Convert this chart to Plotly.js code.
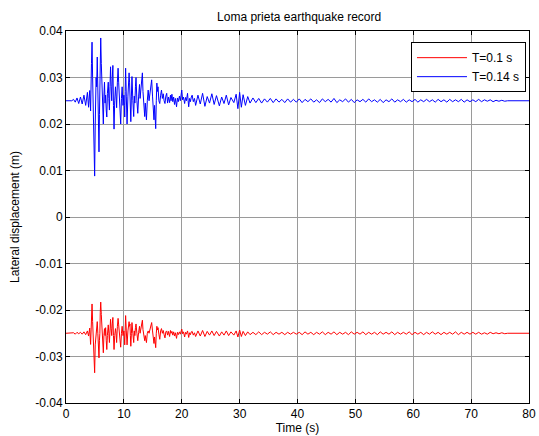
<!DOCTYPE html>
<html>
<head>
<meta charset="utf-8">
<script src="https://cdn.plot.ly/plotly-3.0.1.min.js"></script>
<style>html,body{margin:0;padding:0;background:#fff;}#chart{width:539px;height:436px;}</style>
</head>
<body>
<div id="chart"></div>
<script>
// Time samples (s), shared by both records
const time = [
  0, 1.0, 1.3, 1.6, 1.9, 2.2, 2.5, 2.8, 3.1, 3.4, 3.7, 3.9,
  4.1, 4.25, 4.4, 4.5, 4.6, 4.7, 4.8, 4.95, 5.05, 5.2,
  5.3, 5.4, 5.5, 5.55, 5.65, 5.7, 5.78, 5.85, 5.92, 6.0,
  6.1, 6.2, 6.3, 6.45, 6.55, 6.65, 6.75, 6.85, 6.95, 7.05,
  7.15, 7.3, 7.4, 7.5, 7.6, 7.7, 7.8, 7.9, 8.0, 8.1,
  8.2, 8.3, 8.42, 8.55, 8.65, 8.75, 8.88, 9.0, 9.1, 9.2,
  9.3, 9.45, 9.58, 9.7, 9.85, 10.0, 10.08, 10.15, 10.22, 10.3,
  10.42, 10.55, 10.7, 10.8, 10.9, 10.98, 11.05, 11.12, 11.2, 11.3,
  11.4, 11.55, 11.7, 11.8, 11.9, 12.0, 12.1, 12.25, 12.4, 12.55,
  12.7, 12.8, 12.95, 13.05, 13.2, 13.3, 13.45, 13.6, 13.7, 13.8,
  13.9, 14.05, 14.2, 14.35, 14.5, 14.65, 14.8, 14.95, 15.05, 15.2,
  15.3, 15.4, 15.5, 15.6, 15.7, 15.8, 15.9, 16.05, 16.2, 16.35,
  16.5, 16.65, 16.8, 16.95, 17.1, 17.25, 17.4, 17.55, 17.7, 17.9,
  18.05, 18.15, 18.3, 18.45, 18.6, 18.75, 18.9, 19.1, 19.25, 19.4,
  19.6, 19.75, 19.88, 20.0, 20.15, 20.3, 20.5, 20.65, 20.8, 21.0,
  21.1, 21.2, 21.35, 21.5, 21.65, 21.8, 22.0, 22.2, 22.4,
  22.8, 23.2, 23.6, 24.0, 24.4, 24.8,
  25.2, 25.6, 26.0, 26.5, 26.9, 27.3, 27.7, 28.1, 28.5, 29.0, 29.4, 29.7, 30.0, 30.3, 30.6, 31.0, 31.4, 31.8, 32.3, 32.8,
  33.3, 33.8, 34.3, 34.8, 35.3, 35.8, 36.3, 36.8, 37.3, 37.8, 38.3, 38.8, 39.3, 39.8,
  40.3, 40.8, 41.3, 41.8, 42.3, 42.8, 43.3, 43.8, 44.3, 44.8, 45.3, 45.8, 46.3, 46.8, 47.3, 47.8, 48.3, 48.8, 49.3, 49.8,
  50.3, 50.8, 51.3, 51.8, 52.3, 52.8, 53.3, 53.8, 54.3, 54.8, 55.3, 55.8, 56.3, 56.8, 57.3, 57.8, 58.3, 58.8, 59.3, 59.8,
  60.3, 60.8, 61.3, 61.8, 62.3, 62.8, 63.3, 63.8, 64.3, 64.8, 65.3, 65.8, 66.3, 66.8, 67.3, 67.8, 68.3, 68.8, 69.3, 69.8,
  70.3, 70.8, 71.3, 71.8, 72.3, 72.8, 73.3, 73.8, 74.3, 74.8, 75.3, 75.8, 76.3, 80
];
// Lateral displacement (m), T = 0.14 s
const dispT014 = [
  0.0250, 0.0250, 0.0253, 0.0247, 0.0256, 0.0244, 0.0258, 0.0243, 0.0262, 0.0240, 0.0268, 0.0236,
  0.0272, 0.0228, 0.0330, 0.0376, 0.0300, 0.0240, 0.0180, 0.0088, 0.0200, 0.0300,
  0.0280, 0.0344, 0.0290, 0.0230, 0.0180, 0.0140, 0.0220, 0.0300, 0.0360, 0.0385,
  0.0330, 0.0290, 0.0250, 0.0200, 0.0260, 0.0290, 0.0245, 0.0262, 0.0230, 0.0215,
  0.0265, 0.0290, 0.0255, 0.0230, 0.0280, 0.0323, 0.0280, 0.0250, 0.0300, 0.0326,
  0.0240, 0.0189, 0.0250, 0.0280, 0.0260, 0.0235, 0.0290, 0.0320, 0.0290, 0.0250,
  0.0225, 0.0200, 0.0255, 0.0280, 0.0240, 0.0262, 0.0240, 0.0215, 0.0270, 0.0320,
  0.0260, 0.0200, 0.0260, 0.0285, 0.0310, 0.0290, 0.0273, 0.0240, 0.0205, 0.0260,
  0.0302, 0.0250, 0.0216, 0.0260, 0.0245, 0.0280, 0.0300, 0.0250, 0.0223, 0.0260,
  0.0285, 0.0255, 0.0275, 0.0290, 0.0310, 0.0270, 0.0230, 0.0216, 0.0245, 0.0230,
  0.0209, 0.0250, 0.0273, 0.0250, 0.0265, 0.0285, 0.0295, 0.0260, 0.0230, 0.0209,
  0.0240, 0.0215, 0.0190, 0.0250, 0.0288, 0.0270, 0.0280, 0.0250, 0.0244, 0.0262,
  0.0273, 0.0255, 0.0265, 0.0250, 0.0244, 0.0260, 0.0266, 0.0245, 0.0258, 0.0246,
  0.0262, 0.0250, 0.0264, 0.0248, 0.0258, 0.0242, 0.0255, 0.0237, 0.0256, 0.0248,
  0.0260, 0.0250, 0.0262, 0.0273, 0.0252, 0.0258, 0.0244, 0.0257, 0.0250, 0.0266,
  0.0250, 0.0237, 0.0255, 0.0248, 0.0258, 0.0262, 0.0248, 0.0255, 0.0240,
  0.0262, 0.0243, 0.0266, 0.0238, 0.0259, 0.0245,
  0.0265, 0.0242, 0.0261, 0.0239, 0.0258, 0.0244, 0.0262, 0.0241, 0.0257, 0.0246, 0.0264, 0.0233, 0.0268, 0.0236, 0.0263, 0.0240, 0.0259, 0.0245, 0.0256, 0.0246,
  0.0255, 0.0245, 0.0254, 0.0247, 0.0255, 0.0246, 0.0254, 0.0247, 0.0253, 0.0246, 0.0254, 0.0247, 0.0253, 0.0247,
  0.0254, 0.0246, 0.0253, 0.0248, 0.0254, 0.0247, 0.0252, 0.0246, 0.0254, 0.0248, 0.0253, 0.0247, 0.0255, 0.0246, 0.0252, 0.0248, 0.0254, 0.0247, 0.0253, 0.0246,
  0.0252, 0.0248, 0.0253, 0.0247, 0.0254, 0.0248, 0.0252, 0.0247, 0.0253, 0.0246, 0.0252, 0.0248, 0.0254, 0.0247, 0.0252, 0.0248, 0.0253, 0.0247, 0.0252, 0.0248,
  0.0253, 0.0247, 0.0252, 0.0248, 0.0253, 0.0248, 0.0252, 0.0247, 0.0253, 0.0248, 0.0252, 0.0247, 0.0253, 0.0248, 0.0252, 0.0248, 0.0253, 0.0247, 0.0252, 0.0248,
  0.0252, 0.0248, 0.0253, 0.0248, 0.0252, 0.0249, 0.0252, 0.0248, 0.0251, 0.0249, 0.0251, 0.0249, 0.0250, 0.0250
];
// Lateral displacement (m), T = 0.1 s
const dispT010 = [
  -0.0250, -0.0250, -0.0249, -0.0252, -0.0248, -0.0251, -0.0248, -0.0252, -0.0247, -0.0253, -0.0245, -0.0256,
  -0.0239, -0.0274, -0.0210, -0.0187, -0.0225, -0.0260, -0.0290, -0.0335, -0.0275, -0.0250,
  -0.0240, -0.0225, -0.0250, -0.0270, -0.0290, -0.0303, -0.0265, -0.0250, -0.0205, -0.0183,
  -0.0210, -0.0230, -0.0255, -0.0292, -0.0255, -0.0240, -0.0255, -0.0238, -0.0265, -0.0285,
  -0.0255, -0.0232, -0.0250, -0.0270, -0.0245, -0.0220, -0.0240, -0.0255, -0.0230, -0.0216,
  -0.0255, -0.0285, -0.0255, -0.0240, -0.0250, -0.0270, -0.0235, -0.0218, -0.0232, -0.0250,
  -0.0265, -0.0280, -0.0250, -0.0235, -0.0255, -0.0245, -0.0258, -0.0275, -0.0245, -0.0212,
  -0.0245, -0.0275, -0.0245, -0.0232, -0.0225, -0.0235, -0.0230, -0.0255, -0.0278, -0.0250,
  -0.0227, -0.0250, -0.0270, -0.0245, -0.0255, -0.0238, -0.0230, -0.0250, -0.0266, -0.0248,
  -0.0235, -0.0250, -0.0240, -0.0232, -0.0222, -0.0242, -0.0262, -0.0266, -0.0255, -0.0262,
  -0.0270, -0.0250, -0.0245, -0.0250, -0.0242, -0.0233, -0.0227, -0.0245, -0.0262, -0.0272,
  -0.0258, -0.0268, -0.0281, -0.0250, -0.0235, -0.0243, -0.0238, -0.0252, -0.0263, -0.0245,
  -0.0240, -0.0250, -0.0244, -0.0253, -0.0260, -0.0247, -0.0245, -0.0254, -0.0246, -0.0257,
  -0.0244, -0.0250, -0.0246, -0.0254, -0.0247, -0.0256, -0.0249, -0.0261, -0.0248, -0.0253,
  -0.0247, -0.0252, -0.0246, -0.0241, -0.0251, -0.0247, -0.0258, -0.0248, -0.0252, -0.0245,
  -0.0252, -0.0259, -0.0249, -0.0253, -0.0247, -0.0246, -0.0254, -0.0249, -0.0257,
  -0.0245, -0.0256, -0.0244, -0.0257, -0.0246, -0.0254,
  -0.0245, -0.0255, -0.0246, -0.0256, -0.0247, -0.0254, -0.0245, -0.0255, -0.0247, -0.0254, -0.0245, -0.0258, -0.0243, -0.0257, -0.0246, -0.0255, -0.0247, -0.0253, -0.0248, -0.0253,
  -0.0247, -0.0253, -0.0248, -0.0252, -0.0247, -0.0253, -0.0248, -0.0252, -0.0248, -0.0253, -0.0248, -0.0252, -0.0248, -0.0252,
  -0.0248, -0.0253, -0.0247, -0.0252, -0.0248, -0.0253, -0.0248, -0.0252, -0.0247, -0.0253, -0.0248, -0.0252, -0.0247, -0.0253, -0.0248, -0.0252, -0.0248, -0.0253, -0.0247, -0.0252,
  -0.0248, -0.0252, -0.0247, -0.0253, -0.0248, -0.0252, -0.0248, -0.0253, -0.0247, -0.0252, -0.0248, -0.0252, -0.0247, -0.0253, -0.0248, -0.0252, -0.0248, -0.0252, -0.0247, -0.0253,
  -0.0248, -0.0252, -0.0248, -0.0253, -0.0248, -0.0252, -0.0247, -0.0252, -0.0248, -0.0253, -0.0248, -0.0252, -0.0248, -0.0252, -0.0247, -0.0253, -0.0248, -0.0252, -0.0248, -0.0252,
  -0.0248, -0.0252, -0.0248, -0.0252, -0.0249, -0.0252, -0.0248, -0.0251, -0.0249, -0.0251, -0.0249, -0.0251, -0.0250, -0.0250
];
const seriesNames = ['T=0.1 s', 'T=0.14 s'];
const xTicks = [0, 10, 20, 30, 40, 50, 60, 70, 80];
const yTicks = [-0.04, -0.03, -0.02, -0.01, 0, 0.01, 0.02, 0.03, 0.04];
const yTickText = ['-0.04', '-0.03', '-0.02', '-0.01', '0', '0.01', '0.02', '0.03', '0.04'];

const traces = [
  {x: time, y: dispT010, type: 'scatter', mode: 'lines', name: seriesNames[0], line: {color: '#ff0000', width: 1}},
  {x: time, y: dispT014, type: 'scatter', mode: 'lines', name: seriesNames[1], line: {color: '#0000ff', width: 1}}
];
const axisCommon = {
  showline: true, linecolor: '#000', linewidth: 1, mirror: 'ticks',
  ticks: 'inside', ticklen: 4, tickcolor: '#000',
  showgrid: true, gridcolor: '#9a9a9a', gridwidth: 1,
  zeroline: false, tickfont: {family: 'Liberation Sans, Arial, sans-serif', size: 12, color: '#000'}
};
const layout = {
  width: 539, height: 436,
  margin: {l: 66, r: 10, t: 31, b: 33},
  paper_bgcolor: '#fff', plot_bgcolor: '#fff',
  font: {family: 'Liberation Sans, Arial, sans-serif', size: 12, color: '#000'},
  title: {text: 'Loma prieta earthquake record', font: {size: 12, color: '#000'}, x: 0.555, xanchor: 'center', y: 0.962, yanchor: 'middle'},
  xaxis: Object.assign({}, axisCommon, {range: [0, 80], tickvals: xTicks, ticktext: xTicks.map(String),
    title: {text: 'Time (s)', font: {size: 12}, standoff: 2}}),
  yaxis: Object.assign({}, axisCommon, {range: [-0.04, 0.04], tickvals: yTicks, ticktext: yTickText,
    title: {text: 'Lateral displacement (m)', font: {size: 12}, standoff: 13}}),
  showlegend: true,
  legend: {x: 0.9935, xanchor: 'right', y: 0.970, yanchor: 'top', bgcolor: '#fff', bordercolor: '#000', borderwidth: 1,
    font: {size: 12, color: '#000'}, tracegroupgap: 0, itemwidth: 50}
};
Plotly.newPlot('chart', traces, layout, {displayModeBar: false, staticPlot: true});
</script>
</body>
</html>
